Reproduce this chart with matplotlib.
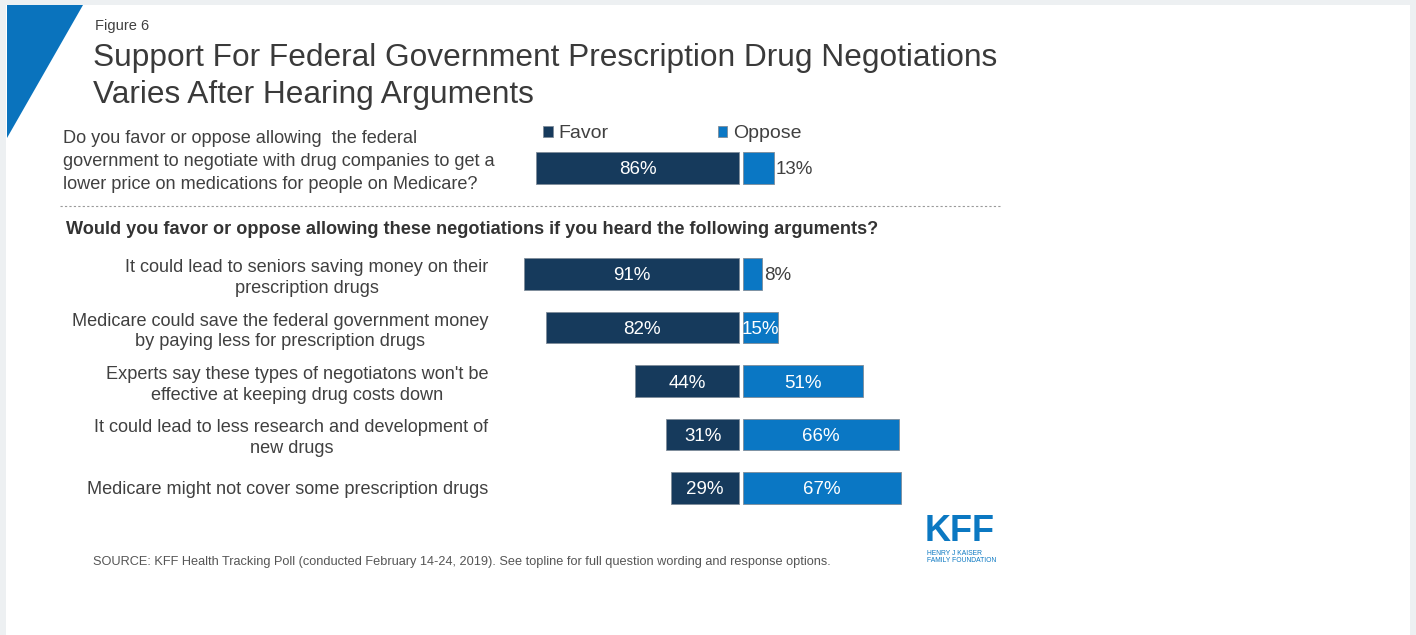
import matplotlib.pyplot as plt
from matplotlib.patches import Polygon, Rectangle
from matplotlib.lines import Line2D

# survey results (percent)
overall_favor = [86]
overall_oppose = [13]

arguments = [
    "It could lead to seniors saving money on their\nprescription drugs",
    "Medicare could save the federal government money\nby paying less for prescription drugs",
    "Experts say these types of negotiatons won't be\neffective at keeping drug costs down",
    "It could lead to less research and development of\nnew drugs",
    "Medicare might not cover some prescription drugs",
]
arg_favor = [91, 82, 44, 31, 29]
arg_oppose = [8, 15, 51, 66, 67]

FAVOR = '#163a5c'
OPPOSE = '#0a77c4'
TEXT = '#404040'
GAP = 0.8  # half of the white gap between the two bars

W, H = 1416, 635
plt.rcParams['font.family'] = ['Liberation Sans', 'DejaVu Sans']


def fx(x):
    return x / W


def fy(y):
    return 1 - y / H


def box(left, top, width, height):
    return [left / W, 1 - (top + height) / H, width / W, height / H]


fig = plt.figure(figsize=(W / 100, H / 100), dpi=100)
fig.patch.set_facecolor('#edf0f2')
fig.add_artist(Rectangle((fx(6), 0), fx(1404), fy(5), transform=fig.transFigure,
                         facecolor='white', edgecolor='none', zorder=-5))
fig.add_artist(Polygon([(fx(7), fy(5)), (fx(83), fy(5)), (fx(7), fy(138))],
                       closed=True, transform=fig.transFigure,
                       facecolor='#0a73bd', edgecolor='none'))

fig.text(fx(95), fy(26), "Figure 6", fontsize=10.5, color=TEXT, va='center')
fig.text(fx(93), fy(76.5), "Support For Federal Government Prescription Drug Negotiations\n"
         "Varies After Hearing Arguments", fontsize=22.8, color='#3a3a3a',
         va='center', linespacing=1.3)
fig.text(fx(63), fy(161.5), "Do you favor or oppose allowing  the federal\n"
         "government to negotiate with drug companies to get a\n"
         "lower price on medications for people on Medicare?",
         fontsize=13.1, color=TEXT, va='center', linespacing=1.45)
fig.add_artist(Line2D([fx(60), fx(1000)], [fy(206), fy(206)], transform=fig.transFigure,
                      color='#9a9a9a', lw=0.8, linestyle=(0, (2, 2))))
fig.text(fx(66), fy(230), "Would you favor or oppose allowing these negotiations if you heard "
         "the following arguments?", fontsize=13.1, fontweight='bold',
         color='#333333', va='center')


def draw_bars(ax, rows, favor, oppose):
    fb = ax.barh(rows, [-v for v in favor], left=-GAP, height=0.58, color=FAVOR,
                 edgecolor='#7f8c99', linewidth=0.6, label='Favor')
    ob = ax.barh(rows, oppose, left=GAP, height=0.58, color=OPPOSE,
                 edgecolor='#7f8c99', linewidth=0.6, label='Oppose')
    for y, v in zip(rows, favor):
        ax.text(-GAP - v / 2, y, f"{v}%", color='white', fontsize=13.5,
                ha='center', va='center_baseline')
    for y, v in zip(rows, oppose):
        if v < 14:
            ax.text(GAP + v + 1.0, y, f"{v}%", color=TEXT, fontsize=13.5,
                    ha='left', va='center_baseline')
        else:
            ax.text(GAP + v / 2, y, f"{v}%", color='white', fontsize=13.5,
                    ha='center', va='center_baseline')
    ax.set_xlim(-100, 100)
    ax.set_facecolor('none')
    for s in ax.spines.values():
        s.set_visible(False)
    ax.set_xticks([])
    return fb, ob


# overall question
ax1 = fig.add_axes(box(505, 141.25, 472, 53.5))
fb, ob = draw_bars(ax1, [0], overall_favor, overall_oppose)
ax1.set_ylim(0.5, -0.5)
ax1.set_yticks([])

# after hearing arguments
ax2 = fig.add_axes(box(505, 247.25, 472, 267.5))
rows = list(range(len(arguments)))
draw_bars(ax2, rows, arg_favor, arg_oppose)
ax2.set_ylim(len(arguments) - 0.5, -0.5)
ax2.set_yticks(rows, arguments)
ax2.tick_params(axis='y', length=0, pad=12, labelsize=13.1, labelcolor=TEXT)
for t in ax2.get_yticklabels():
    t.set_multialignment('center')
    t.set_linespacing(1.3)

fig.legend([fb, ob], ['Favor', 'Oppose'], loc='center left',
           bbox_to_anchor=(fx(543), fy(134)), ncol=2, frameon=False,
           fontsize=14, handlelength=0.5, handleheight=0.5, handletextpad=0.3,
           columnspacing=5.6, borderpad=0, borderaxespad=0, labelcolor=TEXT)

fig.text(fx(93), fy(562), "SOURCE: KFF Health Tracking Poll (conducted February 14-24, 2019). "
         "See topline for full question wording and response options.",
         fontsize=9.2, color='#555555', va='center')

# logo
fig.text(fx(925), fy(541), "KFF", fontsize=26, fontweight='bold', color='#0b78c2',
         va='baseline', family=['Liberation Sans Narrow', 'Liberation Sans'])
fig.text(fx(927), fy(550), "HENRY J KAISER\nFAMILY FOUNDATION", fontsize=4.9,
         color='#0b78c2', va='top', linespacing=1.0)

fig.savefig('out.png', dpi=100, facecolor=fig.get_facecolor())
